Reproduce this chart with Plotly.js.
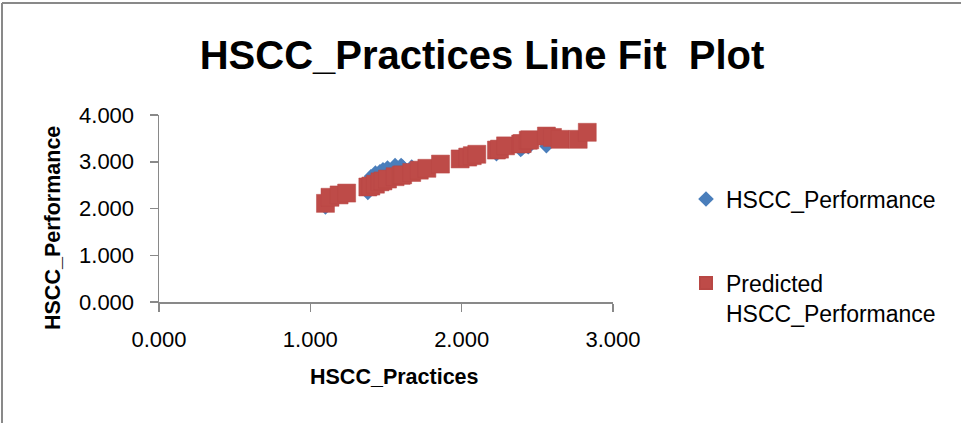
<!DOCTYPE html>
<html>
<head>
<meta charset="utf-8">
<script src="https://cdn.plot.ly/plotly-3.0.1.min.js"></script>
<style>
  html, body { margin: 0; padding: 0; background: #fff; }
  #chart { width: 961px; height: 423px; }
</style>
</head>
<body>
<div id="chart"></div>
<script>
// Observed HSCC practices score for each respondent group
const practices = [1.10, 1.13, 1.19, 1.24, 1.38, 1.40, 1.43, 1.46, 1.48, 1.51,
                   1.56, 1.60, 1.61, 1.67, 1.72, 1.77, 1.86, 1.99, 2.04, 2.07,
                   2.10, 2.23, 2.25, 2.29, 2.39, 2.40, 2.44, 2.45, 2.56, 2.60,
                   2.65, 2.77, 2.83];
// Observed HSCC performance
const performance = [2.02, 2.20, 2.30, 2.35, 2.33, 2.69, 2.77, 2.80, 2.84, 2.88,
                     2.93, 2.93, 2.90, 2.90, 2.86, 2.88, 2.97, 3.05, 3.08, 3.10,
                     3.12, 3.16, 3.22, 3.30, 3.25, 3.28, 3.31, 3.34, 3.33, 3.45,
                     3.45, 3.50, 3.60];
// Fitted HSCC performance from the regression
const predicted = [2.11, 2.24, 2.29, 2.33, 2.46, 2.48, 2.52, 2.57, 2.59, 2.63,
                   2.68, 2.71, 2.72, 2.77, 2.82, 2.86, 2.95, 3.06, 3.10, 3.13,
                   3.16, 3.25, 3.27, 3.34, 3.38, 3.39, 3.46, 3.47, 3.55, 3.52,
                   3.48, 3.48, 3.63];

const xTickVals = [0, 1, 2, 3];
const yTickVals = [0, 1, 2, 3, 4];

const seriesNames = ['HSCC_Performance', 'Predicted<br>HSCC_Performance'];
const chartTitle = 'HSCC_Practices Line Fit\u00a0 Plot';
const xTitle = 'HSCC_Practices';
const yTitle = 'HSCC_Performance';

// Plot-area geometry (pixels)
const FIG_W = 961, FIG_H = 423;
const M = { l: 159, r: 348, t: 115, b: 121 };
const PW = FIG_W - M.l - M.r;
const PH = FIG_H - M.t - M.b;
const px2paperX = px => (px - M.l) / PW;
const py2paperY = py => (M.t + PH - py) / PH;

const FONT = '"Liberation Sans", Arial, sans-serif';
const AXIS_GRAY = '#898989';

const traces = [
  {
    type: 'scatter', mode: 'markers',
    x: practices, y: performance,
    name: seriesNames[0], legend: 'legend',
    marker: { symbol: 'diamond', size: 11, color: '#4A7EBB', line: { width: 0 } },
    hoverinfo: 'skip', cliponaxis: false
  },
  {
    type: 'scatter', mode: 'markers',
    x: practices, y: predicted,
    name: seriesNames[1], legend: 'legend2',
    marker: { symbol: 'square', size: 18, color: '#BE4B48', line: { width: 0.5, color: '#B84744' } },
    hoverinfo: 'skip', cliponaxis: false
  }
];

const axisCommon = {
  showgrid: false, zeroline: false,
  showline: true, linecolor: AXIS_GRAY, linewidth: 1.5,
  ticks: 'outside', ticklen: 8, tickwidth: 1.5, tickcolor: AXIS_GRAY,
  tickformat: '.3f',
  tickfont: { family: FONT, size: 22, color: '#000' },
  fixedrange: true
};

const legendFont = { family: FONT, size: 23, color: '#000' };

const layout = {
  width: FIG_W, height: FIG_H,
  margin: M,
  paper_bgcolor: '#fff', plot_bgcolor: '#fff',
  font: { family: FONT, color: '#000' },
  title: {
    text: chartTitle,
    font: { family: FONT, size: 40, weight: 'bold', color: '#000' },
    xref: 'container', x: 482 / FIG_W, xanchor: 'center',
    yref: 'container', y: 1 - 55 / FIG_H, yanchor: 'middle'
  },
  xaxis: Object.assign({}, axisCommon, {
    range: [0, 3], tickmode: 'array', tickvals: xTickVals, ticklabelstandoff: 9
  }),
  yaxis: Object.assign({}, axisCommon, {
    range: [0, 4], tickmode: 'array', tickvals: yTickVals, ticklabelstandoff: 11
  }),
  showlegend: true,
  legend: {
    xref: 'container', yref: 'container',
    x: 686 / FIG_W, xanchor: 'left',
    y: 1 - 199 / FIG_H, yanchor: 'middle',
    font: legendFont,
    itemsizing: 'constant', bgcolor: 'rgba(0,0,0,0)', borderwidth: 0
  },
  legend2: {
    xref: 'container', yref: 'container',
    x: 686 / FIG_W, xanchor: 'left',
    y: 1 - 298 / FIG_H, yanchor: 'middle',
    valign: 'top',
    font: legendFont,
    itemsizing: 'constant', bgcolor: 'rgba(0,0,0,0)', borderwidth: 0
  },
  annotations: [
    {
      text: xTitle, showarrow: false,
      xref: 'paper', yref: 'paper',
      x: px2paperX(394), y: py2paperY(377),
      xanchor: 'center', yanchor: 'middle',
      font: { family: FONT, size: 21.5, weight: 'bold', color: '#000' }
    },
    {
      text: yTitle, showarrow: false, textangle: -90,
      xref: 'paper', yref: 'paper',
      x: px2paperX(53), y: py2paperY(228),
      xanchor: 'center', yanchor: 'middle',
      font: { family: FONT, size: 21.5, weight: 'bold', color: '#000' }
    }
  ],
  // chart-area frame along the top and left edges
  shapes: [
    {
      type: 'line', xref: 'paper', yref: 'paper',
      x0: px2paperX(2), x1: px2paperX(2),
      y0: py2paperY(FIG_H), y1: py2paperY(3),
      line: { color: AXIS_GRAY, width: 2 }
    },
    {
      type: 'line', xref: 'paper', yref: 'paper',
      x0: px2paperX(2), x1: px2paperX(FIG_W),
      y0: py2paperY(3), y1: py2paperY(3),
      line: { color: AXIS_GRAY, width: 2 }
    }
  ]
};

Plotly.newPlot('chart', traces, layout, { staticPlot: true, displayModeBar: false });
</script>
</body>
</html>
